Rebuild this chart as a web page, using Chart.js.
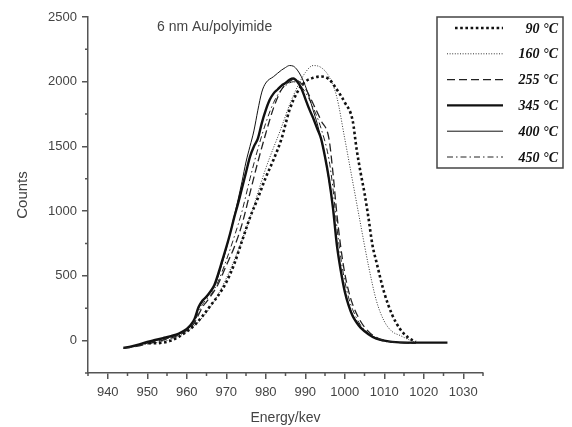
<!DOCTYPE html>
<html>
<head>
<meta charset="utf-8">
<script src="https://cdn.jsdelivr.net/npm/chart.js@4"></script>
<style>
    html, body { margin: 0; padding: 0; background: #fff; }
</style>
</head>
<body>
<canvas id="EnergyChart" width="572" height="427"></canvas>
<script>
//Series data (energy in keV, counts)
let e90 = [949, 950, 952, 954, 956, 958, 960, 962, 964, 966, 968, 970, 972, 974, 976, 978, 980, 982, 984, 986, 988, 990, 992, 994, 996, 998, 1000, 1002, 1003, 1004, 1005, 1006, 1007, 1008, 1010, 1012, 1014, 1016, 1018];
let c90 = [-20, -20, -20, -15, 0, 30, 70, 120, 190, 270, 350, 450, 590, 770, 950, 1100, 1260, 1400, 1560, 1780, 1920, 2000, 2030, 2040, 2020, 1940, 1840, 1700, 1480, 1300, 1140, 950, 740, 610, 370, 200, 90, 25, -10];

let e160 = [949, 952, 956, 960, 964, 968, 972, 976, 980, 984, 986, 988, 990, 992, 994, 996, 998, 1000, 1002, 1004, 1006, 1008, 1010, 1012, 1014, 1016, 1018];
let c160 = [-20, -15, 10, 70, 180, 360, 620, 950, 1330, 1650, 1820, 1960, 2070, 2125, 2110, 2040, 1880, 1560, 1230, 900, 580, 310, 150, 70, 40, 10, -15];

let e255 = [944, 948, 952, 956, 960, 962, 963, 964, 965, 966, 968, 970, 972, 974, 976, 978, 980, 982, 984, 986, 987, 988, 990, 992, 994, 996, 997, 998, 999, 1000, 1001, 1002, 1004, 1006, 1008, 1010, 1014, 1018];
let c255 = [-60, -40, -10, 20, 80, 140, 200, 260, 300, 340, 440, 580, 720, 900, 1140, 1380, 1600, 1800, 1940, 2000, 2020, 2010, 1950, 1830, 1700, 1560, 1300, 980, 720, 520, 380, 280, 150, 70, 25, 0, -15, -20];

let e345 = [944, 946, 948, 950, 952, 954, 956, 958, 960, 961, 962, 963, 964, 965, 966, 967, 968, 969, 970, 971, 972, 973, 974, 975, 976, 977, 978, 979, 980, 981, 982, 983, 984, 985, 986, 987, 988, 989, 990, 991, 992, 993, 994, 995, 996, 997, 998, 999, 1000, 1001, 1002, 1003, 1004, 1006, 1008, 1010, 1012, 1016, 1020, 1026];
let c345 = [-55, -45, -30, -10, 5, 20, 35, 55, 90, 120, 170, 260, 310, 340, 380, 430, 520, 620, 720, 830, 950, 1060, 1180, 1300, 1420, 1500, 1560, 1680, 1780, 1860, 1910, 1940, 1970, 1990, 2015, 2025, 2000, 1950, 1870, 1790, 1720, 1640, 1560, 1420, 1250, 1030, 740, 540, 380, 270, 190, 140, 100, 50, 15, 0, -10, -15, -15, -15];

let e400 = [944, 946, 948, 950, 952, 954, 956, 958, 960, 961, 962, 963, 964, 965, 966, 967, 968, 969, 970, 971, 972, 973, 974, 975, 976, 977, 978, 979, 980, 982, 984, 985, 986, 987, 988, 989, 990, 991, 992, 993, 994, 995, 996, 997, 998, 999, 1000, 1001, 1002, 1004, 1006, 1008, 1010, 1014, 1018];
let c400 = [-60, -45, -30, -15, 0, 15, 30, 50, 90, 120, 170, 250, 300, 335, 370, 420, 500, 600, 710, 830, 960, 1090, 1230, 1380, 1500, 1620, 1780, 1920, 1990, 2040, 2090, 2110, 2125, 2120, 2090, 2040, 1970, 1880, 1780, 1680, 1560, 1420, 1240, 1040, 760, 550, 390, 280, 200, 110, 55, 20, 0, -15, -18];

let e450 = [944, 948, 952, 956, 960, 962, 963, 964, 965, 966, 968, 970, 972, 974, 976, 978, 980, 982, 984, 986, 987, 988, 990, 992, 994, 996, 997, 998, 999, 1000, 1001, 1002, 1004, 1006, 1008, 1010, 1014, 1018];
let c450 = [-55, -35, -5, 25, 85, 150, 220, 280, 320, 350, 460, 620, 800, 1000, 1250, 1480, 1680, 1840, 1940, 1990, 2000, 1990, 1920, 1800, 1640, 1400, 1180, 880, 640, 460, 330, 240, 120, 55, 15, -5, -15, -20];

let seriesLabels = ['90 °C', '160 °C', '255 °C', '345 °C', '400 °C', '450 °C'];

//Axis ranges and tick labels
let xRange = [935, 1035];
let yRange = [-250, 2500];
let xTickValues = [940, 950, 960, 970, 980, 990, 1000, 1010, 1020, 1030];
let yTickValues = [0, 500, 1000, 1500, 2000, 2500];
let xMinorStep = 5;
let yMinorStep = 250;

let axisColor = '#555';
let textColor = '#444';

function toPoints(energies, counts) {
    return energies.map((e, i) => ({ x: e, y: counts[i] }));
}

function makeDataset(label, energies, counts, width, dash, color) {
    return {
        label: label,
        data: toPoints(energies, counts),
        borderColor: color,
        borderWidth: width,
        borderDash: dash,
        pointRadius: 0,
        fill: false,
        cubicInterpolationMode: 'monotone'
    };
}

let datasets = [
    makeDataset(seriesLabels[0], e90, c90, 2.6, [2.6, 2.6], '#111'),
    makeDataset(seriesLabels[1], e160, c160, 1, [1, 1.6], '#333'),
    makeDataset(seriesLabels[2], e255, c255, 1.3, [8, 4], '#222'),
    makeDataset(seriesLabels[3], e345, c345, 2.4, [], '#111'),
    makeDataset(seriesLabels[4], e400, c400, 1, [], '#111'),
    makeDataset(seriesLabels[5], e450, c450, 1, [6, 3, 1.5, 3], '#222')
];

//Draws minor ticks, the inner title and the boxed legend
let extrasPlugin = {
    id: 'extras',
    afterDraw: function (chart) {
        let ctx = chart.ctx;
        let xs = chart.scales.x;
        let ys = chart.scales.y;
        let area = chart.chartArea;

        ctx.save();
        ctx.strokeStyle = axisColor;
        ctx.lineWidth = 1.5;
        ctx.beginPath();
        for (let v = xRange[0]; v <= xRange[1]; v += xMinorStep) {
            if (xTickValues.indexOf(v) >= 0) continue;
            let px = xs.getPixelForValue(v);
            ctx.moveTo(px, area.bottom);
            ctx.lineTo(px, area.bottom + 3);
        }
        for (let v = yRange[0]; v <= yRange[1]; v += yMinorStep) {
            if (yTickValues.indexOf(v) >= 0) continue;
            let py = ys.getPixelForValue(v);
            ctx.moveTo(area.left, py);
            ctx.lineTo(area.left - 3, py);
        }
        ctx.stroke();

        //Title inside the plot
        ctx.fillStyle = textColor;
        ctx.font = '14px "Liberation Sans", Arial, sans-serif';
        ctx.textBaseline = 'alphabetic';
        ctx.textAlign = 'left';
        ctx.fillText('6 nm Au/polyimide', 157, 31);

        //Legend box
        let boxL = 437, boxT = 17, boxW = 126, boxH = 151;
        ctx.fillStyle = '#fff';
        ctx.fillRect(boxL, boxT, boxW, boxH);
        ctx.strokeStyle = '#444';
        ctx.lineWidth = 1.5;
        ctx.setLineDash([]);
        ctx.strokeRect(boxL, boxT, boxW, boxH);

        chart.data.datasets.forEach(function (ds, i) {
            let cy = 28 + i * 25.8;
            ctx.beginPath();
            ctx.strokeStyle = ds.borderColor;
            ctx.lineWidth = ds.borderWidth;
            ctx.setLineDash(ds.borderDash);
            ctx.moveTo(i === 0 ? 455 : 447, cy);
            ctx.lineTo(503, cy);
            ctx.stroke();
            ctx.setLineDash([]);

            ctx.fillStyle = '#111';
            ctx.font = 'italic bold 14px "Liberation Serif", "Times New Roman", serif';
            ctx.textAlign = 'right';
            ctx.textBaseline = 'middle';
            ctx.fillText(ds.label, 558, cy + 1);
        });
        ctx.restore();
    }
};

function setTicks(values) {
    return function (scale) {
        scale.ticks = values.map(v => ({ value: v }));
    };
}

let axisFont = { family: '"Liberation Sans", Arial, sans-serif', size: 13 };

new Chart(
    document.getElementById('EnergyChart'),
    {
        type: 'line',
        data: { datasets: datasets },
        options: {
            responsive: false,
            animation: false,
            layout: { padding: { top: 17, right: 89, bottom: 0, left: 0 } },
            plugins: {
                legend: { display: false },
                title: { display: false },
                tooltip: { enabled: false }
            },
            scales: {
                x: {
                    type: 'linear',
                    min: xRange[0],
                    max: xRange[1],
                    afterBuildTicks: setTicks(xTickValues),
                    afterFit: function (scale) { scale.height = 54; },
                    ticks: {
                        color: textColor,
                        padding: 6,
                        maxRotation: 0,
                        autoSkip: false,
                        font: axisFont,
                        callback: v => String(v)
                    },
                    grid: {
                        drawOnChartArea: false,
                        drawTicks: true,
                        tickLength: 6,
                        color: axisColor,
                        lineWidth: 1.5
                    },
                    border: { display: true, color: axisColor, width: 1.5 },
                    title: {
                        display: true,
                        text: 'Energy/kev',
                        color: textColor,
                        padding: { top: 0, bottom: 0 },
                        font: { family: '"Liberation Sans", Arial, sans-serif', size: 14 }
                    }
                },
                y: {
                    type: 'linear',
                    min: yRange[0],
                    max: yRange[1],
                    afterBuildTicks: setTicks(yTickValues),
                    afterFit: function (scale) { scale.width = 88; },
                    ticks: {
                        color: textColor,
                        padding: 5,
                        autoSkip: false,
                        font: axisFont,
                        callback: v => String(v)
                    },
                    grid: {
                        drawOnChartArea: false,
                        drawTicks: true,
                        tickLength: 6,
                        color: axisColor,
                        lineWidth: 1.5
                    },
                    border: { display: true, color: axisColor, width: 1.5 },
                    title: {
                        display: true,
                        text: 'Counts',
                        color: textColor,
                        padding: { top: 14, bottom: 0 },
                        font: { family: '"Liberation Sans", Arial, sans-serif', size: 15 }
                    }
                }
            }
        },
        plugins: [extrasPlugin]
    }
);
</script>
</body>
</html>
